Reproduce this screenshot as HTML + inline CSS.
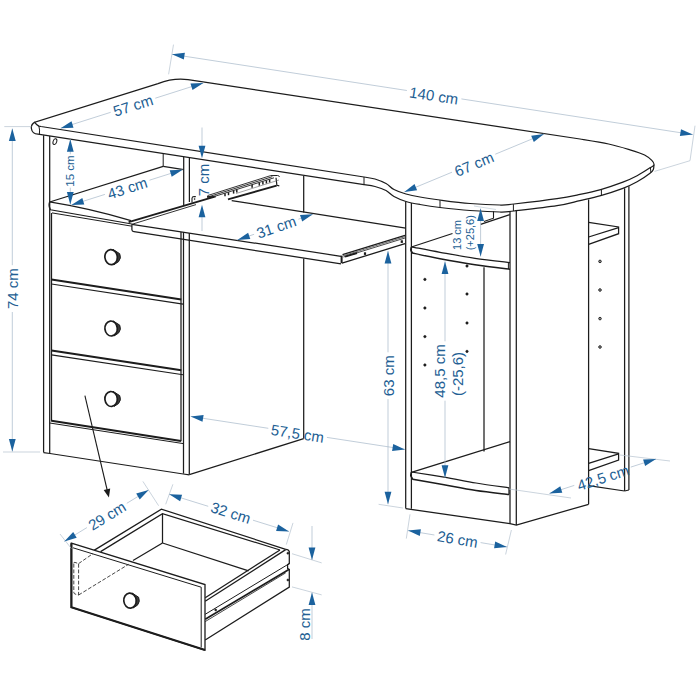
<!DOCTYPE html>
<html><head><meta charset="utf-8"><style>
html,body{margin:0;padding:0;background:#fff;}
svg{display:block;font-family:"Liberation Sans",sans-serif;}
</style></head><body>
<svg width="700" height="700" viewBox="0 0 700 700">
<rect width="700" height="700" fill="#fff"/>
<path d="M41 126.5 L38.9 126.1 Q35.1 123.7 34.9 122.1 L158 83.6 C166 80.6 176 78 188 79.7 L580 139  C584.8 139.8 600.3 142.2 608.6 144.0 C616.9 145.8 624.0 148.0 630.0 149.8 C636.0 151.6 641.0 153.2 644.6 155.0 C648.2 156.8 650.2 158.8 651.8 160.4 C653.4 162.1 654.3 163.7 654.0 164.9 C653.7 166.1 652.8 166.0 650.0 167.8 C647.2 169.6 641.6 173.4 637.1 175.8 C632.6 178.2 629.0 179.9 622.9 182.2 C616.8 184.5 607.9 187.6 600.7 189.6 C593.6 191.6 587.3 192.9 580.0 194.4 C572.7 195.9 568.0 197.0 557.0 198.6 C546.0 200.2 523.5 202.9 514.0 204.0 C504.5 205.1 507.3 205.1 500.0 205.0 C492.7 204.9 480.0 204.3 470.0 203.5 C460.0 202.7 448.3 201.1 440.0 200.0 C431.7 198.9 425.7 198.0 420.0 197.0 C414.3 196.0 410.3 195.2 406.0 194.0 C401.7 192.8 397.3 191.2 394.0 189.5 C390.7 187.8 389.2 185.2 386.0 183.5 C382.8 181.8 378.7 180.1 375.0 179.0 C371.3 177.9 365.8 177.3 364.0 177.0 Z" stroke="#1c1c1c" stroke-width="1.25" fill="#fff" />
<path d="M34.9 122.1 C32.5 123.5 31 126 31.4 128.5 C31.8 131.5 34 134 38 134.1 L364 184.6  C365.8 184.9 371.3 185.5 375.0 186.5 C378.7 187.5 382.8 188.8 386.0 190.5 C389.2 192.2 390.7 194.7 394.0 196.5 C397.3 198.3 401.7 200.2 406.0 201.5 C410.3 202.8 414.3 203.5 420.0 204.5 C425.7 205.5 431.7 206.5 440.0 207.5 C448.3 208.5 460.0 209.8 470.0 210.5 C480.0 211.2 492.7 211.9 500.0 212.0 C507.3 212.1 504.5 212.1 514.0 211.0 C523.5 209.9 546.0 207.4 557.0 205.7 C568.0 204.0 572.7 202.3 580.0 200.6 C587.3 198.9 593.6 197.6 600.7 195.6 C607.9 193.6 616.8 190.7 622.9 188.4 C629.0 186.1 632.6 184.3 637.1 181.8 C641.6 179.3 647.3 175.3 650.0 173.2 C652.7 171.1 652.8 170.7 653.4 169.3 C654.0 167.9 653.8 165.6 653.9 164.9" stroke="#1c1c1c" stroke-width="1.25" fill="none" />
<line x1="650.4" y1="167.2" x2="650.9" y2="172.6" stroke="#1c1c1c" stroke-width="1" />
<path d="M38.9 126.1 Q40 130 39.4 134.2" stroke="#1c1c1c" stroke-width="1" fill="none" />
<line x1="364.0" y1="177.0" x2="364.0" y2="184.6" stroke="#1c1c1c" stroke-width="1" />
<line x1="440.0" y1="200.0" x2="440.0" y2="207.5" stroke="#1c1c1c" stroke-width="1" />
<line x1="513.4" y1="204.2" x2="513.4" y2="211.0" stroke="#1c1c1c" stroke-width="1" />
<line x1="601.4" y1="189.5" x2="601.4" y2="195.5" stroke="#1c1c1c" stroke-width="1" />
<line x1="43.6" y1="135.2" x2="43.6" y2="452.6" stroke="#1c1c1c" stroke-width="1.25" />
<line x1="49.7" y1="136.0" x2="49.7" y2="453.5" stroke="#1c1c1c" stroke-width="1.25" />
<ellipse cx="54.9" cy="141.6" rx="1.8" ry="3" fill="none" stroke="#1c1c1c" stroke-width="1" transform="rotate(18 54.9 141.6)"/>
<line x1="163.2" y1="153.7" x2="163.2" y2="166.3" stroke="#1c1c1c" stroke-width="1" />
<path d="M163.2 166.3 L49.7 202.0" stroke="#1c1c1c" stroke-width="1.25" fill="none" />
<path d="M163.2 166.3 L183.7 169.6" stroke="#1c1c1c" stroke-width="1.25" fill="none" />
<path d="M49.6 201.9 Q90 208.4 131 220.6" stroke="#1c1c1c" stroke-width="1.25" fill="none" />
<path d="M49.6 201.9 Q48.2 206 50.5 209.8 L131.9 224" stroke="#1c1c1c" stroke-width="1.25" fill="none" />
<line x1="52.0" y1="212.9" x2="131.9" y2="226.2" stroke="#1c1c1c" stroke-width="1" />
<line x1="51.5" y1="213.0" x2="51.5" y2="421.4" stroke="#1c1c1c" stroke-width="1.25" />
<line x1="51.5" y1="279.6" x2="181.3" y2="299.5" stroke="#1c1c1c" stroke-width="2.0" />
<line x1="51.5" y1="284.0" x2="183.0" y2="304.1" stroke="#1c1c1c" stroke-width="1.1" />
<line x1="51.5" y1="350.5" x2="181.3" y2="370.2" stroke="#1c1c1c" stroke-width="2.0" />
<line x1="51.5" y1="354.9" x2="183.0" y2="374.8" stroke="#1c1c1c" stroke-width="1.1" />
<line x1="51.5" y1="420.8" x2="181.0" y2="441.0" stroke="#1c1c1c" stroke-width="2.0" />
<line x1="49.7" y1="423.0" x2="183.3" y2="443.6" stroke="#1c1c1c" stroke-width="1" />
<path d="M43.6 452.6 L50.0 453.5 L183.3 474.0 L189.3 474.8" stroke="#1c1c1c" stroke-width="1.25" fill="none" />
<line x1="181.0" y1="232.0" x2="181.0" y2="441.2" stroke="#1c1c1c" stroke-width="1.25" />
<line x1="183.5" y1="232.0" x2="183.5" y2="473.6" stroke="#1c1c1c" stroke-width="1.25" />
<line x1="189.3" y1="233.0" x2="189.3" y2="474.6" stroke="#1c1c1c" stroke-width="1.25" />
<line x1="183.7" y1="157.0" x2="183.7" y2="205.0" stroke="#1c1c1c" stroke-width="1.25" />
<line x1="189.4" y1="158.0" x2="189.4" y2="202.0" stroke="#1c1c1c" stroke-width="1.25" />
<path d="M113.1 249.5 L119.7 253.7 Q121.7 258.1 118.5 261.7 L114.1 264.5 Z" stroke="#1c1c1c" stroke-width="1.0" fill="#3a3a3a" stroke-linejoin="round"/>
<ellipse cx="111.1" cy="257.1" rx="6.2" ry="7.5" fill="#fff" stroke="#1c1c1c" stroke-width="1.7" transform="rotate(-6 111.1 257.1)"/>
<path d="M113.1 320.9 L119.7 325.1 Q121.7 329.5 118.5 333.1 L114.1 335.9 Z" stroke="#1c1c1c" stroke-width="1.0" fill="#3a3a3a" stroke-linejoin="round"/>
<ellipse cx="111.1" cy="328.5" rx="6.2" ry="7.5" fill="#fff" stroke="#1c1c1c" stroke-width="1.7" transform="rotate(-6 111.1 328.5)"/>
<path d="M113.1 391.4 L119.7 395.6 Q121.7 400.0 118.5 403.6 L114.1 406.4 Z" stroke="#1c1c1c" stroke-width="1.0" fill="#3a3a3a" stroke-linejoin="round"/>
<ellipse cx="111.1" cy="399.0" rx="6.2" ry="7.5" fill="#fff" stroke="#1c1c1c" stroke-width="1.7" transform="rotate(-6 111.1 399.0)"/>
<path d="M189.3 474.6 L303.7 438.6" stroke="#1c1c1c" stroke-width="1.25" fill="none" />
<line x1="303.7" y1="258.5" x2="303.7" y2="438.6" stroke="#1c1c1c" stroke-width="1.25" />
<line x1="303.7" y1="176.0" x2="303.7" y2="212.4" stroke="#1c1c1c" stroke-width="1.25" />
<path d="M131.9 224.3 L341.0 256.3" stroke="#1c1c1c" stroke-width="1.25" fill="none" />
<path d="M131.9 224.3 L131.9 229.8 Q132 231.4 134 231.7 L341 263.8" stroke="#1c1c1c" stroke-width="1.25" fill="none" />
<path d="M128.6 222.2 L215.7 196.4" stroke="#1c1c1c" stroke-width="1.8" fill="none" />
<path d="M131.9 224.3 L196.0 204.6" stroke="#1c1c1c" stroke-width="0.9" fill="none" />
<path d="M231.7 200.6 L405.7 228.1" stroke="#1c1c1c" stroke-width="1.25" fill="none" />
<line x1="341.6" y1="255.6" x2="341.6" y2="263.2" stroke="#1c1c1c" stroke-width="2.0" />
<path d="M342.5 254.6 L405.0 235.4" stroke="#1c1c1c" stroke-width="1.3" fill="none" />
<path d="M343.0 255.8 L405.0 236.7" stroke="#444" stroke-width="0.8" fill="none" />
<path d="M343.5 257.0 L405.0 238.0" stroke="#333" stroke-width="0.9" fill="none" />
<path d="M342.0 263.2 L405.0 243.6" stroke="#1c1c1c" stroke-width="1.3" fill="none" />
<rect x="363.9" y="252.3" width="2.2" height="2.6" fill="#1c1c1c"/>
<rect x="400.7" y="240.3" width="2.2" height="2.6" fill="#1c1c1c"/>
<path d="M345.0 256.6 L357.0 253.0" stroke="#1c1c1c" stroke-width="2.0" fill="none" />
<path d="M192 202.5 L192 198.2 Q192.2 196.6 194 196.5 L195.8 196.6" stroke="#1c1c1c" stroke-width="1.1" fill="none" />
<circle cx="194.6" cy="199.0" r="0.6" stroke="#1c1c1c" stroke-width="0.5" fill="#1c1c1c"/>
<path d="M207.5 195.6 L270.7 175.6" stroke="#2a2a2a" stroke-width="0.95" fill="none" />
<path d="M208.8 196.7 L272.3 176.7" stroke="#2a2a2a" stroke-width="0.95" fill="none" />
<path d="M210.1 197.8 L274.0 177.8" stroke="#2a2a2a" stroke-width="0.95" fill="none" />
<path d="M207.0 196.8 L214.0 197.2" stroke="#1c1c1c" stroke-width="1.8" fill="none" />
<path d="M270.7 175.6 L277.5 175.5 Q279.3 175.8 279.5 176.8" stroke="#1c1c1c" stroke-width="1.0" fill="none" />
<path d="M276 177.8 L276.9 185.3 L279.3 185.9" stroke="#1c1c1c" stroke-width="1.2" fill="none" />
<path d="M276.6 185.6 L228.0 199.3" stroke="#1c1c1c" stroke-width="1.9" fill="none" />
<path d="M279.0 180.0 L236.0 193.5" stroke="#666" stroke-width="0.6" fill="none" />
<line x1="225.0" y1="193.3" x2="225.0" y2="196.3" stroke="#1c1c1c" stroke-width="1.5" />
<line x1="228.5" y1="192.2" x2="228.5" y2="195.2" stroke="#1c1c1c" stroke-width="1.5" />
<line x1="233.6" y1="190.6" x2="233.6" y2="193.6" stroke="#1c1c1c" stroke-width="1.5" />
<line x1="236.8" y1="189.6" x2="236.8" y2="192.6" stroke="#1c1c1c" stroke-width="1.5" />
<line x1="252.1" y1="184.8" x2="252.1" y2="187.8" stroke="#1c1c1c" stroke-width="1.5" />
<line x1="259.3" y1="182.6" x2="259.3" y2="185.6" stroke="#1c1c1c" stroke-width="1.5" />
<line x1="262.9" y1="181.5" x2="262.9" y2="184.5" stroke="#1c1c1c" stroke-width="1.5" />
<line x1="266.4" y1="180.4" x2="266.4" y2="183.4" stroke="#1c1c1c" stroke-width="1.5" />
<line x1="269.6" y1="179.4" x2="269.6" y2="182.4" stroke="#1c1c1c" stroke-width="1.5" />
<line x1="405.7" y1="201.5" x2="405.7" y2="508.6" stroke="#1c1c1c" stroke-width="1.25" />
<line x1="411.4" y1="203.0" x2="411.4" y2="508.8" stroke="#1c1c1c" stroke-width="1.25" />
<line x1="510.0" y1="211.5" x2="510.0" y2="523.7" stroke="#1c1c1c" stroke-width="1.25" />
<line x1="516.3" y1="211.0" x2="516.3" y2="525.0" stroke="#1c1c1c" stroke-width="1.25" />
<path d="M405.7 508.6 L510.0 523.7 L516.3 525.0 L588.6 504.3" stroke="#1c1c1c" stroke-width="1.25" fill="none" />
<line x1="588.6" y1="199.6" x2="588.6" y2="504.3" stroke="#1c1c1c" stroke-width="1.25" />
<line x1="624.6" y1="188.2" x2="624.6" y2="491.0" stroke="#1c1c1c" stroke-width="1.25" />
<line x1="628.9" y1="186.2" x2="628.9" y2="490.0" stroke="#1c1c1c" stroke-width="1.25" />
<path d="M624.6 491.0 L628.9 490.0" stroke="#1c1c1c" stroke-width="1.25" fill="none" />
<path d="M588.6 485.6 L624.6 491.0" stroke="#1c1c1c" stroke-width="1.25" fill="none" />
<path d="M588.6 222.3 L618.6 227.0 L618.6 233.7 L588.6 244.3" stroke="#1c1c1c" stroke-width="1.25" fill="none" />
<path d="M618.6 227.6 L588.6 237.0" stroke="#1c1c1c" stroke-width="1.25" fill="none" />
<path d="M588.6 448.6 L618.6 453.3 L618.6 460.0 L588.6 470.6" stroke="#1c1c1c" stroke-width="1.25" fill="none" />
<path d="M618.6 453.9 L588.6 463.3" stroke="#1c1c1c" stroke-width="1.25" fill="none" />
<path d="M411.4 246.8 C416.2 247.7 429.4 250.4 440.0 252.3 C450.6 254.2 463.3 256.6 475.0 258.3 C486.7 260.0 504.2 261.9 510.0 262.6" stroke="#1c1c1c" stroke-width="1.25" fill="none" />
<path d="M411.4 246.8 C411.3 247.3 410.6 249.0 410.8 250.0 C411.0 251.0 412.2 252.5 412.5 253.0 C417.1 254.0 429.6 256.8 440.0 258.8 C450.4 260.8 463.3 263.1 475.0 264.8 C486.7 266.5 504.2 268.5 510.0 269.2" stroke="#1c1c1c" stroke-width="1.5" fill="none" />
<path d="M411.4 247.0 L452.5 233.5" stroke="#1c1c1c" stroke-width="1.25" fill="none" />
<path d="M480.6 224.3 L509.8 214.7" stroke="#1c1c1c" stroke-width="1.25" fill="none" />
<line x1="484.0" y1="267.3" x2="484.0" y2="451.5" stroke="#1c1c1c" stroke-width="1.25" />
<line x1="508.4" y1="262.6" x2="508.4" y2="269.0" stroke="#1c1c1c" stroke-width="1" />
<path d="M411.4 472.0 C416.8 472.9 433.2 475.4 444.0 477.2 C454.8 479.0 465.2 481.2 476.0 483.0 C486.8 484.8 503.5 487.0 509.0 487.8" stroke="#1c1c1c" stroke-width="1.25" fill="none" />
<path d="M411.4 472.0 C411.3 472.6 410.6 474.6 410.8 475.8 C411.1 477.0 412.5 478.7 412.9 479.3 C418.1 480.2 433.5 482.9 444.0 484.8 C454.5 486.7 465.2 488.9 476.0 490.5 C486.8 492.1 503.5 493.9 509.0 494.6" stroke="#1c1c1c" stroke-width="1.5" fill="none" />
<line x1="509.0" y1="487.8" x2="509.0" y2="494.6" stroke="#1c1c1c" stroke-width="1.25" />
<path d="M411.4 472.4 L510.0 441.6" stroke="#1c1c1c" stroke-width="1.25" fill="none" />
<path d="M493.5 211.3 L493.5 218.2 L484.0 221.6" stroke="#1c1c1c" stroke-width="1.1" fill="none" />
<line x1="474.0" y1="206.0" x2="496.0" y2="209.5" stroke="#b4c2cf" stroke-width="0.6" />
<circle cx="424.9" cy="279.4" r="1.2" stroke="#1c1c1c" stroke-width="0.6" fill="#1c1c1c"/>
<circle cx="424.9" cy="308.0" r="1.2" stroke="#1c1c1c" stroke-width="0.6" fill="#1c1c1c"/>
<circle cx="424.9" cy="336.6" r="1.2" stroke="#1c1c1c" stroke-width="0.6" fill="#1c1c1c"/>
<circle cx="424.9" cy="365.0" r="1.2" stroke="#1c1c1c" stroke-width="0.6" fill="#1c1c1c"/>
<circle cx="467.0" cy="266.0" r="1.2" stroke="#1c1c1c" stroke-width="0.6" fill="#1c1c1c"/>
<circle cx="467.0" cy="294.0" r="1.2" stroke="#1c1c1c" stroke-width="0.6" fill="#1c1c1c"/>
<circle cx="467.0" cy="323.0" r="1.2" stroke="#1c1c1c" stroke-width="0.6" fill="#1c1c1c"/>
<circle cx="467.0" cy="351.4" r="1.2" stroke="#1c1c1c" stroke-width="0.6" fill="#1c1c1c"/>
<circle cx="600.0" cy="261.4" r="1.3" stroke="#1c1c1c" stroke-width="0.9" fill="#999"/>
<circle cx="600.0" cy="290.0" r="1.3" stroke="#1c1c1c" stroke-width="0.9" fill="#999"/>
<circle cx="600.0" cy="318.6" r="1.3" stroke="#1c1c1c" stroke-width="0.9" fill="#999"/>
<circle cx="600.0" cy="347.0" r="1.3" stroke="#1c1c1c" stroke-width="0.9" fill="#999"/>
<path d="M162.5 513.7 L162.5 543.0" stroke="#1c1c1c" stroke-width="1.25" fill="none" />
<path d="M162.5 543.0 L133.0 560.5" stroke="#1c1c1c" stroke-width="1.25" fill="none" />
<path d="M162.5 543.0 L248.6 570.9" stroke="#1c1c1c" stroke-width="1.25" fill="none" />
<path d="M94.0 550.4 L161.4 509.1 L285.7 549.3" stroke="#1c1c1c" stroke-width="1.25" fill="none" />
<path d="M100.6 551.6 L162.5 513.7 L280.0 550.0" stroke="#1c1c1c" stroke-width="1.25" fill="none" />
<path d="M285.7 549.6 L205.2 601.2" stroke="#1c1c1c" stroke-width="1.25" fill="none" />
<path d="M280.0 550.0 L205.2 597.8" stroke="#1c1c1c" stroke-width="1.25" fill="none" />
<path d="M285.7 549.3 Q288.8 549.6 289.3 551.5 L289.3 563.6 L287.6 564.6 L287.6 568.6 L289.3 569.3 L289.3 587.1 L205.2 640" stroke="#1c1c1c" stroke-width="1.25" fill="none" />
<path d="M289.3 563.6 L205.2 614.3" stroke="#1c1c1c" stroke-width="1" fill="none" />
<path d="M289.3 569.3 L205.2 619.3" stroke="#1c1c1c" stroke-width="1.7" fill="none" />
<path d="M285.7 572.9 L205.2 621.6" stroke="#1c1c1c" stroke-width="0.8" fill="none" />
<circle cx="287.9" cy="553.2" r="1.0" stroke="#1c1c1c" stroke-width="0.6" fill="#1c1c1c"/>
<circle cx="287.9" cy="580.0" r="1.0" stroke="#1c1c1c" stroke-width="0.6" fill="#1c1c1c"/>
<circle cx="215.7" cy="609.9" r="1.0" stroke="#1c1c1c" stroke-width="0.6" fill="#1c1c1c"/>
<path d="M71.4 543.2 L205.0 584.6 L205.0 650.0 L71.4 607.3 Z" stroke="#1c1c1c" stroke-width="1.3" fill="#fff" />
<path d="M71.4 543.2 L71.4 607.3 L205.0 650.0" stroke="#1c1c1c" stroke-width="2.2" fill="none" />
<path d="M73.0 547.8 L201.2 587.2 L201.2 647.5" stroke="#1c1c1c" stroke-width="1" fill="none" />
<path d="M73.8 563.3 Q73.8 562 75 562.4 L78.6 563.6 L78.6 595 L75 594 Q73.8 593.6 73.8 592.3 Z" stroke="#333" stroke-width="0.9" fill="none" stroke-dasharray="3.8 1.8"/>
<path d="M78.6 595.0 L128.6 564.3" stroke="#333" stroke-width="0.9" fill="none" stroke-dasharray="3.8 1.8"/>
<path d="M78.6 563.6 L93.0 553.6" stroke="#333" stroke-width="0.9" fill="none" stroke-dasharray="3.8 1.8"/>
<path d="M132.0 593.0 L138.6 597.2 Q140.6 601.6 137.4 605.2 L133.0 608.0 Z" stroke="#1c1c1c" stroke-width="1.0" fill="#3a3a3a" stroke-linejoin="round"/>
<ellipse cx="130.0" cy="600.6" rx="6.2" ry="7.5" fill="#fff" stroke="#1c1c1c" stroke-width="1.7" transform="rotate(-6 130.0 600.6)"/>
<line x1="84.9" y1="395.7" x2="107.4" y2="491.0" stroke="#1c1c1c" stroke-width="1.1" />
<polygon points="108.9,497.4 103.7,489.9 110.2,488.4" fill="#1c1c1c"/>
<line x1="173.5" y1="44.6" x2="168.6" y2="74.3" stroke="#b4c2cf" stroke-width="0.7" />
<line x1="695.0" y1="125.7" x2="690.0" y2="160.7" stroke="#b4c2cf" stroke-width="0.7" />
<line x1="690.0" y1="160.7" x2="654.5" y2="171.4" stroke="#b4c2cf" stroke-width="0.7" />
<line x1="172.0" y1="54.3" x2="406.9" y2="90.5" stroke="#a6b8c8" stroke-width="0.7" />
<line x1="461.4" y1="98.9" x2="692.8" y2="134.6" stroke="#a6b8c8" stroke-width="0.7" />
<polygon points="172.0,54.3 184.9,52.8 183.8,59.6" fill="#1b629e"/>
<polygon points="692.8,134.6 679.9,136.1 681.0,129.3" fill="#1b629e"/>
<text x="434.0" y="95.5" font-size="15" fill="#225e93" text-anchor="middle" transform="rotate(8.8 434.0 95.5)" dominant-baseline="central">140 cm</text>
<line x1="60.6" y1="128.2" x2="110.7" y2="112.3" stroke="#a6b8c8" stroke-width="0.7" />
<line x1="155.3" y1="98.2" x2="203.4" y2="82.9" stroke="#a6b8c8" stroke-width="0.7" />
<polygon points="60.6,128.2 71.5,121.2 73.5,127.7" fill="#1b629e"/>
<polygon points="203.4,82.9 192.5,89.9 190.5,83.4" fill="#1b629e"/>
<text x="133.0" y="105.3" font-size="15" fill="#225e93" text-anchor="middle" transform="rotate(-17.6 133.0 105.3)" dominant-baseline="central">57 cm</text>
<line x1="404.3" y1="192.0" x2="452.0" y2="172.2" stroke="#a6b8c8" stroke-width="0.7" />
<line x1="495.3" y1="154.2" x2="544.0" y2="134.0" stroke="#a6b8c8" stroke-width="0.7" />
<polygon points="404.3,192.0 414.5,184.1 417.1,190.3" fill="#1b629e"/>
<polygon points="544.0,134.0 533.8,141.9 531.2,135.7" fill="#1b629e"/>
<text x="474.0" y="164.0" font-size="15" fill="#225e93" text-anchor="middle" transform="rotate(-22.5 474.0 164.0)" dominant-baseline="central">67 cm</text>
<line x1="4.3" y1="126.6" x2="31.4" y2="126.6" stroke="#b4c2cf" stroke-width="0.7" />
<line x1="3.0" y1="452.0" x2="40.0" y2="452.0" stroke="#b4c2cf" stroke-width="0.7" />
<line x1="12.3" y1="451.4" x2="12.3" y2="312.0" stroke="#a6b8c8" stroke-width="0.7" />
<line x1="12.3" y1="265.2" x2="12.3" y2="128.6" stroke="#a6b8c8" stroke-width="0.7" />
<polygon points="12.3,451.4 8.9,438.9 15.7,438.9" fill="#1b629e"/>
<polygon points="12.3,128.6 15.7,141.1 8.9,141.1" fill="#1b629e"/>
<text x="13.0" y="288.6" font-size="15" fill="#225e93" text-anchor="middle" transform="rotate(-90.0 13.0 288.6)" dominant-baseline="central">74 cm</text>
<line x1="70.3" y1="204.5" x2="70.3" y2="187.7" stroke="#a6b8c8" stroke-width="0.7" />
<line x1="70.3" y1="154.3" x2="70.3" y2="139.2" stroke="#a6b8c8" stroke-width="0.7" />
<polygon points="70.3,204.5 66.9,192.0 73.7,192.0" fill="#1b629e"/>
<polygon points="70.3,139.2 73.7,151.7 66.9,151.7" fill="#1b629e"/>
<text x="70.2" y="171.0" font-size="11.5" fill="#225e93" text-anchor="middle" transform="rotate(-90.0 70.2 171.0)" dominant-baseline="central">15 cm</text>
<line x1="71.4" y1="205.0" x2="104.9" y2="194.4" stroke="#a6b8c8" stroke-width="0.7" />
<line x1="149.5" y1="180.2" x2="182.6" y2="169.7" stroke="#a6b8c8" stroke-width="0.7" />
<polygon points="71.4,205.0 82.3,198.0 84.3,204.5" fill="#1b629e"/>
<polygon points="182.6,169.7 171.7,176.7 169.7,170.2" fill="#1b629e"/>
<text x="127.4" y="188.0" font-size="15" fill="#225e93" text-anchor="middle" transform="rotate(-17.6 127.4 188.0)" dominant-baseline="central">43 cm</text>
<line x1="202.0" y1="127.5" x2="202.0" y2="146.0" stroke="#a6b8c8" stroke-width="0.7" />
<line x1="202.0" y1="217.0" x2="202.0" y2="231.0" stroke="#a6b8c8" stroke-width="0.7" />
<polygon points="202.0,158.3 198.6,145.8 205.4,145.8" fill="#1b629e"/>
<polygon points="202.0,204.7 205.4,217.2 198.6,217.2" fill="#1b629e"/>
<text x="203.0" y="180.0" font-size="15" fill="#225e93" text-anchor="middle" transform="rotate(-90.0 203.0 180.0)" dominant-baseline="central">7 cm</text>
<line x1="237.4" y1="239.9" x2="254.1" y2="234.3" stroke="#a6b8c8" stroke-width="0.7" />
<line x1="298.4" y1="219.2" x2="312.9" y2="214.3" stroke="#a6b8c8" stroke-width="0.7" />
<polygon points="237.4,239.9 248.1,232.7 250.3,239.1" fill="#1b629e"/>
<polygon points="312.9,214.3 302.2,221.5 300.0,215.1" fill="#1b629e"/>
<text x="276.3" y="226.9" font-size="15" fill="#225e93" text-anchor="middle" transform="rotate(-18.7 276.3 226.9)" dominant-baseline="central">31 cm</text>
<line x1="480.6" y1="256.5" x2="480.6" y2="208.6" stroke="#a6b8c8" stroke-width="0.7" />
<polygon points="480.6,256.5 477.2,244.0 484.0,244.0" fill="#1b629e"/>
<polygon points="480.6,208.6 484.0,221.1 477.2,221.1" fill="#1b629e"/>
<text x="457.3" y="235.0" font-size="11" fill="#225e93" text-anchor="middle" transform="rotate(-90.0 457.3 235.0)" dominant-baseline="central">13 cm</text>
<text x="470.3" y="232.7" font-size="11" fill="#225e93" text-anchor="middle" transform="rotate(-90.0 470.3 232.7)" dominant-baseline="central">(+25,6)</text>
<line x1="378.6" y1="504.3" x2="402.9" y2="508.0" stroke="#b4c2cf" stroke-width="0.7" />
<line x1="388.0" y1="504.3" x2="388.0" y2="399.1" stroke="#a6b8c8" stroke-width="0.7" />
<line x1="388.0" y1="352.3" x2="388.0" y2="251.0" stroke="#a6b8c8" stroke-width="0.7" />
<polygon points="388.0,504.3 384.6,491.8 391.4,491.8" fill="#1b629e"/>
<polygon points="388.0,251.0 391.4,263.5 384.6,263.5" fill="#1b629e"/>
<text x="389.0" y="375.7" font-size="15" fill="#225e93" text-anchor="middle" transform="rotate(-90.0 389.0 375.7)" dominant-baseline="central">63 cm</text>
<line x1="445.0" y1="477.7" x2="445.0" y2="400.7" stroke="#a6b8c8" stroke-width="0.7" />
<line x1="445.0" y1="341.3" x2="445.0" y2="261.4" stroke="#a6b8c8" stroke-width="0.7" />
<polygon points="445.0,477.7 441.6,465.2 448.4,465.2" fill="#1b629e"/>
<polygon points="445.0,261.4 448.4,273.9 441.6,273.9" fill="#1b629e"/>
<text x="439.5" y="371.0" font-size="15" fill="#225e93" text-anchor="middle" transform="rotate(-90.0 439.5 371.0)" dominant-baseline="central">48,5 cm</text>
<text x="457.0" y="374.0" font-size="15" fill="#225e93" text-anchor="middle" transform="rotate(-90.0 457.0 374.0)" dominant-baseline="central">(-25,6)</text>
<line x1="190.7" y1="416.4" x2="268.3" y2="428.3" stroke="#a6b8c8" stroke-width="0.7" />
<line x1="326.9" y1="437.4" x2="405.0" y2="449.4" stroke="#a6b8c8" stroke-width="0.7" />
<polygon points="190.7,416.4 203.6,414.9 202.5,421.7" fill="#1b629e"/>
<polygon points="405.0,449.4 392.1,450.9 393.2,444.1" fill="#1b629e"/>
<text x="297.5" y="433.4" font-size="15" fill="#225e93" text-anchor="middle" transform="rotate(8.8 297.5 433.4)" dominant-baseline="central">57,5 cm</text>
<line x1="509.0" y1="489.0" x2="571.0" y2="498.0" stroke="#b4c2cf" stroke-width="0.7" />
<line x1="620.0" y1="455.0" x2="670.0" y2="461.0" stroke="#b4c2cf" stroke-width="0.7" />
<line x1="549.4" y1="493.4" x2="574.3" y2="485.4" stroke="#a6b8c8" stroke-width="0.7" />
<line x1="630.8" y1="467.1" x2="656.0" y2="459.0" stroke="#a6b8c8" stroke-width="0.7" />
<polygon points="549.4,493.4 560.3,486.3 562.3,492.8" fill="#1b629e"/>
<polygon points="656.0,459.0 645.1,466.1 643.1,459.6" fill="#1b629e"/>
<text x="603.0" y="477.6" font-size="15" fill="#225e93" text-anchor="middle" transform="rotate(-17.9 603.0 477.6)" dominant-baseline="central">42,5 cm</text>
<line x1="410.0" y1="514.3" x2="406.3" y2="538.6" stroke="#b4c2cf" stroke-width="0.7" />
<line x1="511.4" y1="530.0" x2="505.6" y2="554.5" stroke="#b4c2cf" stroke-width="0.7" />
<line x1="408.0" y1="530.6" x2="434.4" y2="535.0" stroke="#a6b8c8" stroke-width="0.7" />
<line x1="480.6" y1="542.6" x2="507.0" y2="547.0" stroke="#a6b8c8" stroke-width="0.7" />
<polygon points="408.0,530.6 420.9,529.3 419.8,536.0" fill="#1b629e"/>
<polygon points="507.0,547.0 494.1,548.3 495.2,541.6" fill="#1b629e"/>
<text x="457.5" y="539.0" font-size="15" fill="#225e93" text-anchor="middle" transform="rotate(9.4 457.5 539.0)" dominant-baseline="central">26 cm</text>
<line x1="60.0" y1="534.0" x2="71.4" y2="548.6" stroke="#b4c2cf" stroke-width="0.7" />
<line x1="142.9" y1="481.4" x2="158.6" y2="505.7" stroke="#b4c2cf" stroke-width="0.7" />
<line x1="64.3" y1="541.4" x2="86.9" y2="527.6" stroke="#a6b8c8" stroke-width="0.7" />
<line x1="126.8" y1="503.3" x2="148.6" y2="490.0" stroke="#a6b8c8" stroke-width="0.7" />
<polygon points="64.3,541.4 73.2,532.0 76.7,537.8" fill="#1b629e"/>
<polygon points="148.6,490.0 139.7,499.4 136.2,493.6" fill="#1b629e"/>
<text x="107.0" y="515.7" font-size="15" fill="#225e93" text-anchor="middle" transform="rotate(-31.4 107.0 515.7)" dominant-baseline="central">29 cm</text>
<line x1="172.9" y1="484.3" x2="165.7" y2="504.3" stroke="#b4c2cf" stroke-width="0.7" />
<line x1="293.0" y1="522.9" x2="286.3" y2="544.6" stroke="#b4c2cf" stroke-width="0.7" />
<line x1="169.2" y1="494.2" x2="208.2" y2="506.3" stroke="#a6b8c8" stroke-width="0.7" />
<line x1="253.0" y1="520.2" x2="289.0" y2="531.4" stroke="#a6b8c8" stroke-width="0.7" />
<polygon points="169.2,494.2 182.1,494.7 180.1,501.2" fill="#1b629e"/>
<polygon points="289.0,531.4 276.1,530.9 278.1,524.4" fill="#1b629e"/>
<text x="230.8" y="512.6" font-size="15" fill="#225e93" text-anchor="middle" transform="rotate(17.3 230.8 512.6)" dominant-baseline="central">32 cm</text>
<line x1="292.0" y1="553.7" x2="321.7" y2="562.9" stroke="#b4c2cf" stroke-width="0.7" />
<line x1="292.0" y1="586.9" x2="321.7" y2="594.9" stroke="#b4c2cf" stroke-width="0.7" />
<line x1="312.0" y1="526.0" x2="312.0" y2="560.0" stroke="#a6b8c8" stroke-width="0.7" />
<polygon points="312.0,560.0 308.6,547.5 315.4,547.5" fill="#1b629e"/>
<line x1="312.0" y1="592.6" x2="312.0" y2="639.0" stroke="#a6b8c8" stroke-width="0.7" />
<polygon points="312.0,592.6 315.4,605.1 308.6,605.1" fill="#1b629e"/>
<text x="304.6" y="624.6" font-size="15" fill="#225e93" text-anchor="middle" transform="rotate(-90.0 304.6 624.6)" dominant-baseline="central">8 cm</text>
</svg></body></html>
